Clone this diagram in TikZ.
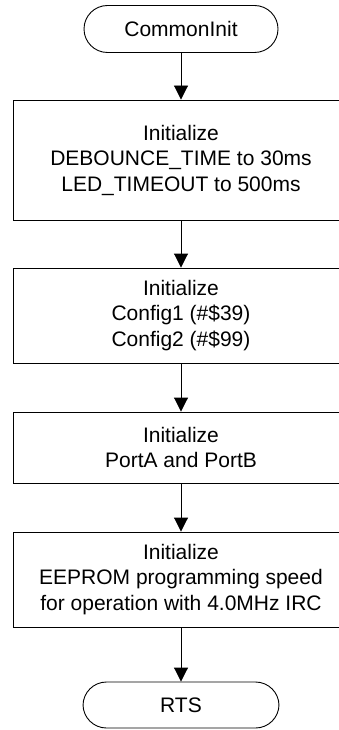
\documentclass[tikz,border=0pt]{standalone}
\usepackage{fontspec}
\setmainfont{Liberation Sans}
\usetikzlibrary{arrows.meta}
\begin{document}
\begin{tikzpicture}[x=1pt,y=1pt,
  every node/.style={font=\fontsize{21}{25.5}\selectfont, align=center, inner sep=0pt},
  terminal/.style={draw, line width=0.9pt, rounded corners=23.5pt, minimum width=194pt, minimum height=47pt},
  procbox/.style={draw, line width=0.9pt, minimum width=336pt},
  flow/.style={line width=0.9pt, -{Triangle[length=14pt,width=14pt]}}]
  \clip (0,0) rectangle (339,-730);
  \node[terminal] (start) at (181,-29) {CommonInit};
  \node[procbox, minimum height=120pt] (b1) at (181,-160)
    {Initialize\\DEBOUNCE\_TIME to 30ms\\LED\_TIMEOUT to 500ms};
  \node[procbox, minimum height=95pt] (b2) at (181,-315.5)
    {Initialize\\Config1 (\#\$39)\\Config2 (\#\$99)};
  \node[procbox, minimum height=71pt] (b3) at (181,-447.5)
    {Initialize\\PortA and PortB};
  \node[procbox, minimum height=95pt] (b4) at (181,-579.5)
    {Initialize\\EEPROM programming speed\\for operation with 4.0MHz IRC};
  \node[terminal, minimum width=196pt, minimum height=46pt] (stop) at (181,-705) {RTS};
  \draw[flow] (start) -- (b1);
  \draw[flow] (b1) -- (b2);
  \draw[flow] (b2) -- (b3);
  \draw[flow] (b3) -- (b4);
  \draw[flow] (b4) -- (stop);
\end{tikzpicture}
\end{document}
